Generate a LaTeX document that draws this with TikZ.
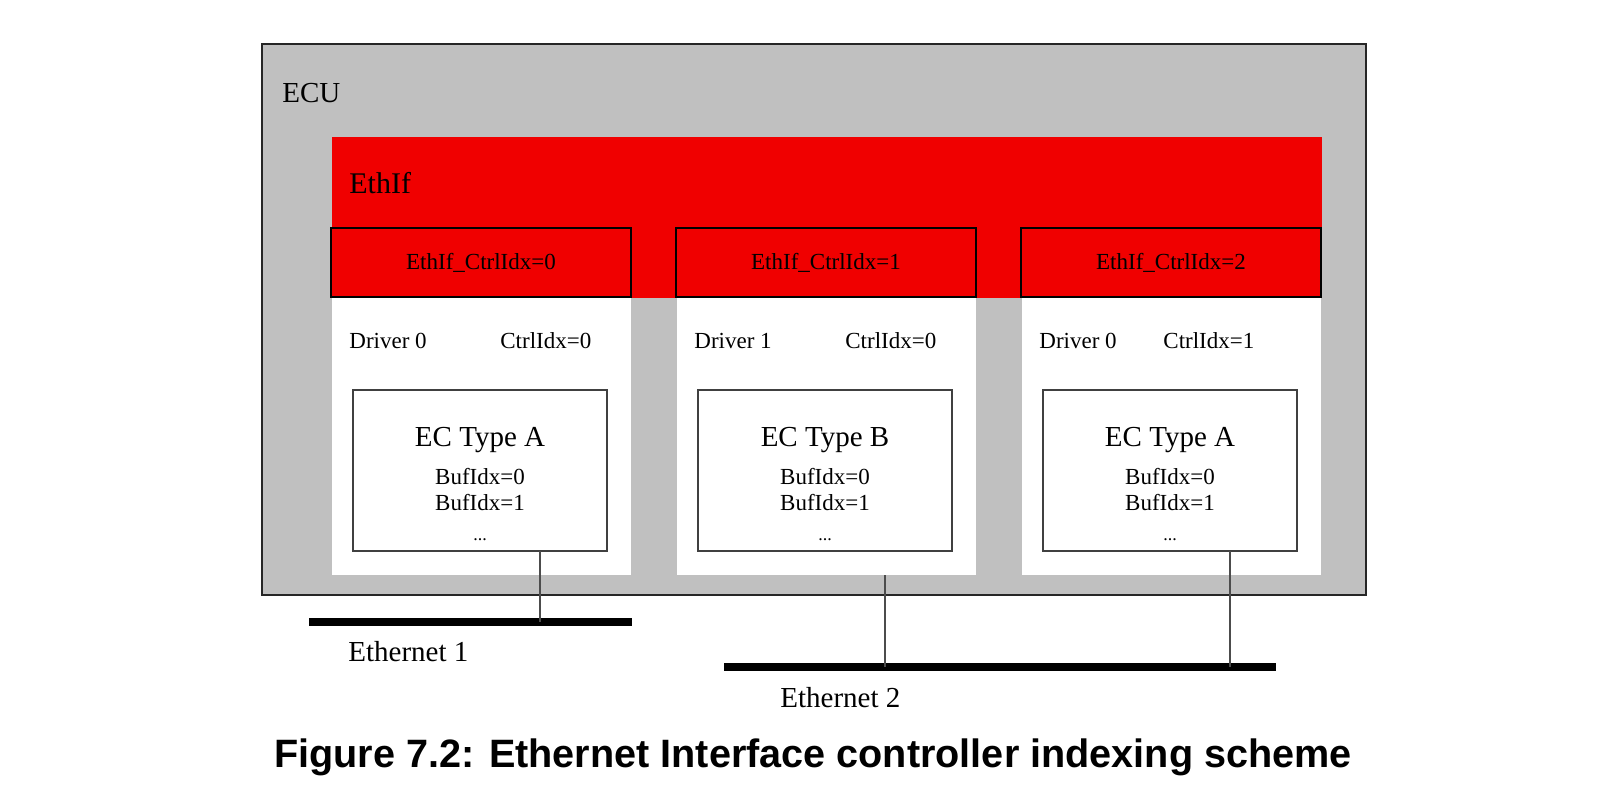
\documentclass[tikz,border=0pt]{standalone}
\usepackage{fontspec}
\setmainfont{Liberation Serif}
\newfontfamily\capfont{Liberation Sans}
\usetikzlibrary{positioning}
\definecolor{ecugray}{RGB}{192,192,192}
\definecolor{ethred}{RGB}{240,0,0}
\tikzset{
  plate/.style={inner sep=0pt, outer sep=0pt, anchor=north west},
  ecu/.style={plate, draw=black!85, line width=1pt, fill=ecugray,
    minimum width=552pt, minimum height=275.5pt},
  ethif/.style={plate, fill=ethred, minimum width=495pt, minimum height=80.5pt},
  drvcol/.style={plate, fill=white, minimum width=149.5pt, minimum height=139pt},
  ctrlbox/.style={plate, draw=black, line width=1pt, fill=ethred,
    minimum width=150pt, minimum height=34.5pt, font=\smalltxt},
  ecbox/.style={plate, draw=black!75, line width=0.9pt, fill=white,
    minimum width=127pt, minimum height=80.5pt},
  lbl/.style={inner sep=0pt, anchor=base west, font=\smalltxt},
  biglbl/.style={inner sep=0pt, anchor=base west, font=\bigtxt},
  tap/.style={draw=black!70, line width=1pt},
  bus/.style={draw=black, line width=4pt},
}
\newcommand{\smalltxt}{\fontsize{11.5}{13}\selectfont}
\newcommand{\bigtxt}{\fontsize{14.5}{17}\selectfont}
\begin{document}
\begin{tikzpicture}[x=0.5pt, y=-0.5pt]
\useasboundingbox (0,0) rectangle (1618,808);
\node[ecu] (ecu) at (262,44) {};
\node[biglbl] at (282,103) {ECU};
\node[ethif] (ethif) at (332,137) {};
\node[biglbl, font=\fontsize{15}{17}\selectfont] at (349,193) {EthIf};
% one column per controller
\foreach \i/\drv/\cidx/\cx/\ty in {0/0/0/168/A, 1/1/0/168/B, 2/0/1/141/A} {
  \pgfmathsetmacro\xx{332+345*\i}
  \node[drvcol] (col\i) at (\xx,297) {};
  \node[ctrlbox] (ctrl\i) at (\xx-1,228) {EthIf\_CtrlIdx=\i};
  \node[lbl] at (\xx+17,348) {Driver \drv};
  \node[lbl] at (\xx+\cx,348) {CtrlIdx=\cidx};
  \node[ecbox] (ec\i) at (\xx+21,390) {};
  \node[biglbl, anchor=base] at ([yshift=-28pt]ec\i.north) {EC Type \ty};
  \node[lbl, anchor=base] at ([yshift=-47pt]ec\i.north) {BufIdx=0};
  \node[lbl, anchor=base] at ([yshift=-60pt]ec\i.north) {BufIdx=1};
  \node[lbl, anchor=base, font=\fontsize{9}{10}\selectfont] at ([yshift=-75pt]ec\i.north) {...};
  \coordinate (tap\i) at ([xshift=93.5pt]ec\i.south west);
}
% ethernet buses
\coordinate (bus1w) at (309,622);
\coordinate (bus1e) at (632,622);
\coordinate (bus2w) at (724,667);
\coordinate (bus2e) at (1276,667);
\draw[bus] (bus1w) -- (bus1e);
\draw[bus] (bus2w) -- (bus2e);
\draw[tap] (tap0) -- (tap0 |- bus1w);
\draw[tap] (tap1 |- col1.south) -- (tap1 |- bus2w);
\draw[tap] (tap2) -- (tap2 |- bus2w);
\node[biglbl] at (348,661) {Ethernet 1};
\node[biglbl] at (780,707) {Ethernet 2};
\node[inner sep=0pt, anchor=base, font=\capfont\bfseries\fontsize{19.8}{22}\selectfont] (caption) at (813,767)
  {Figure 7.2: Ethernet Interface controller indexing scheme};
\end{tikzpicture}
\end{document}
